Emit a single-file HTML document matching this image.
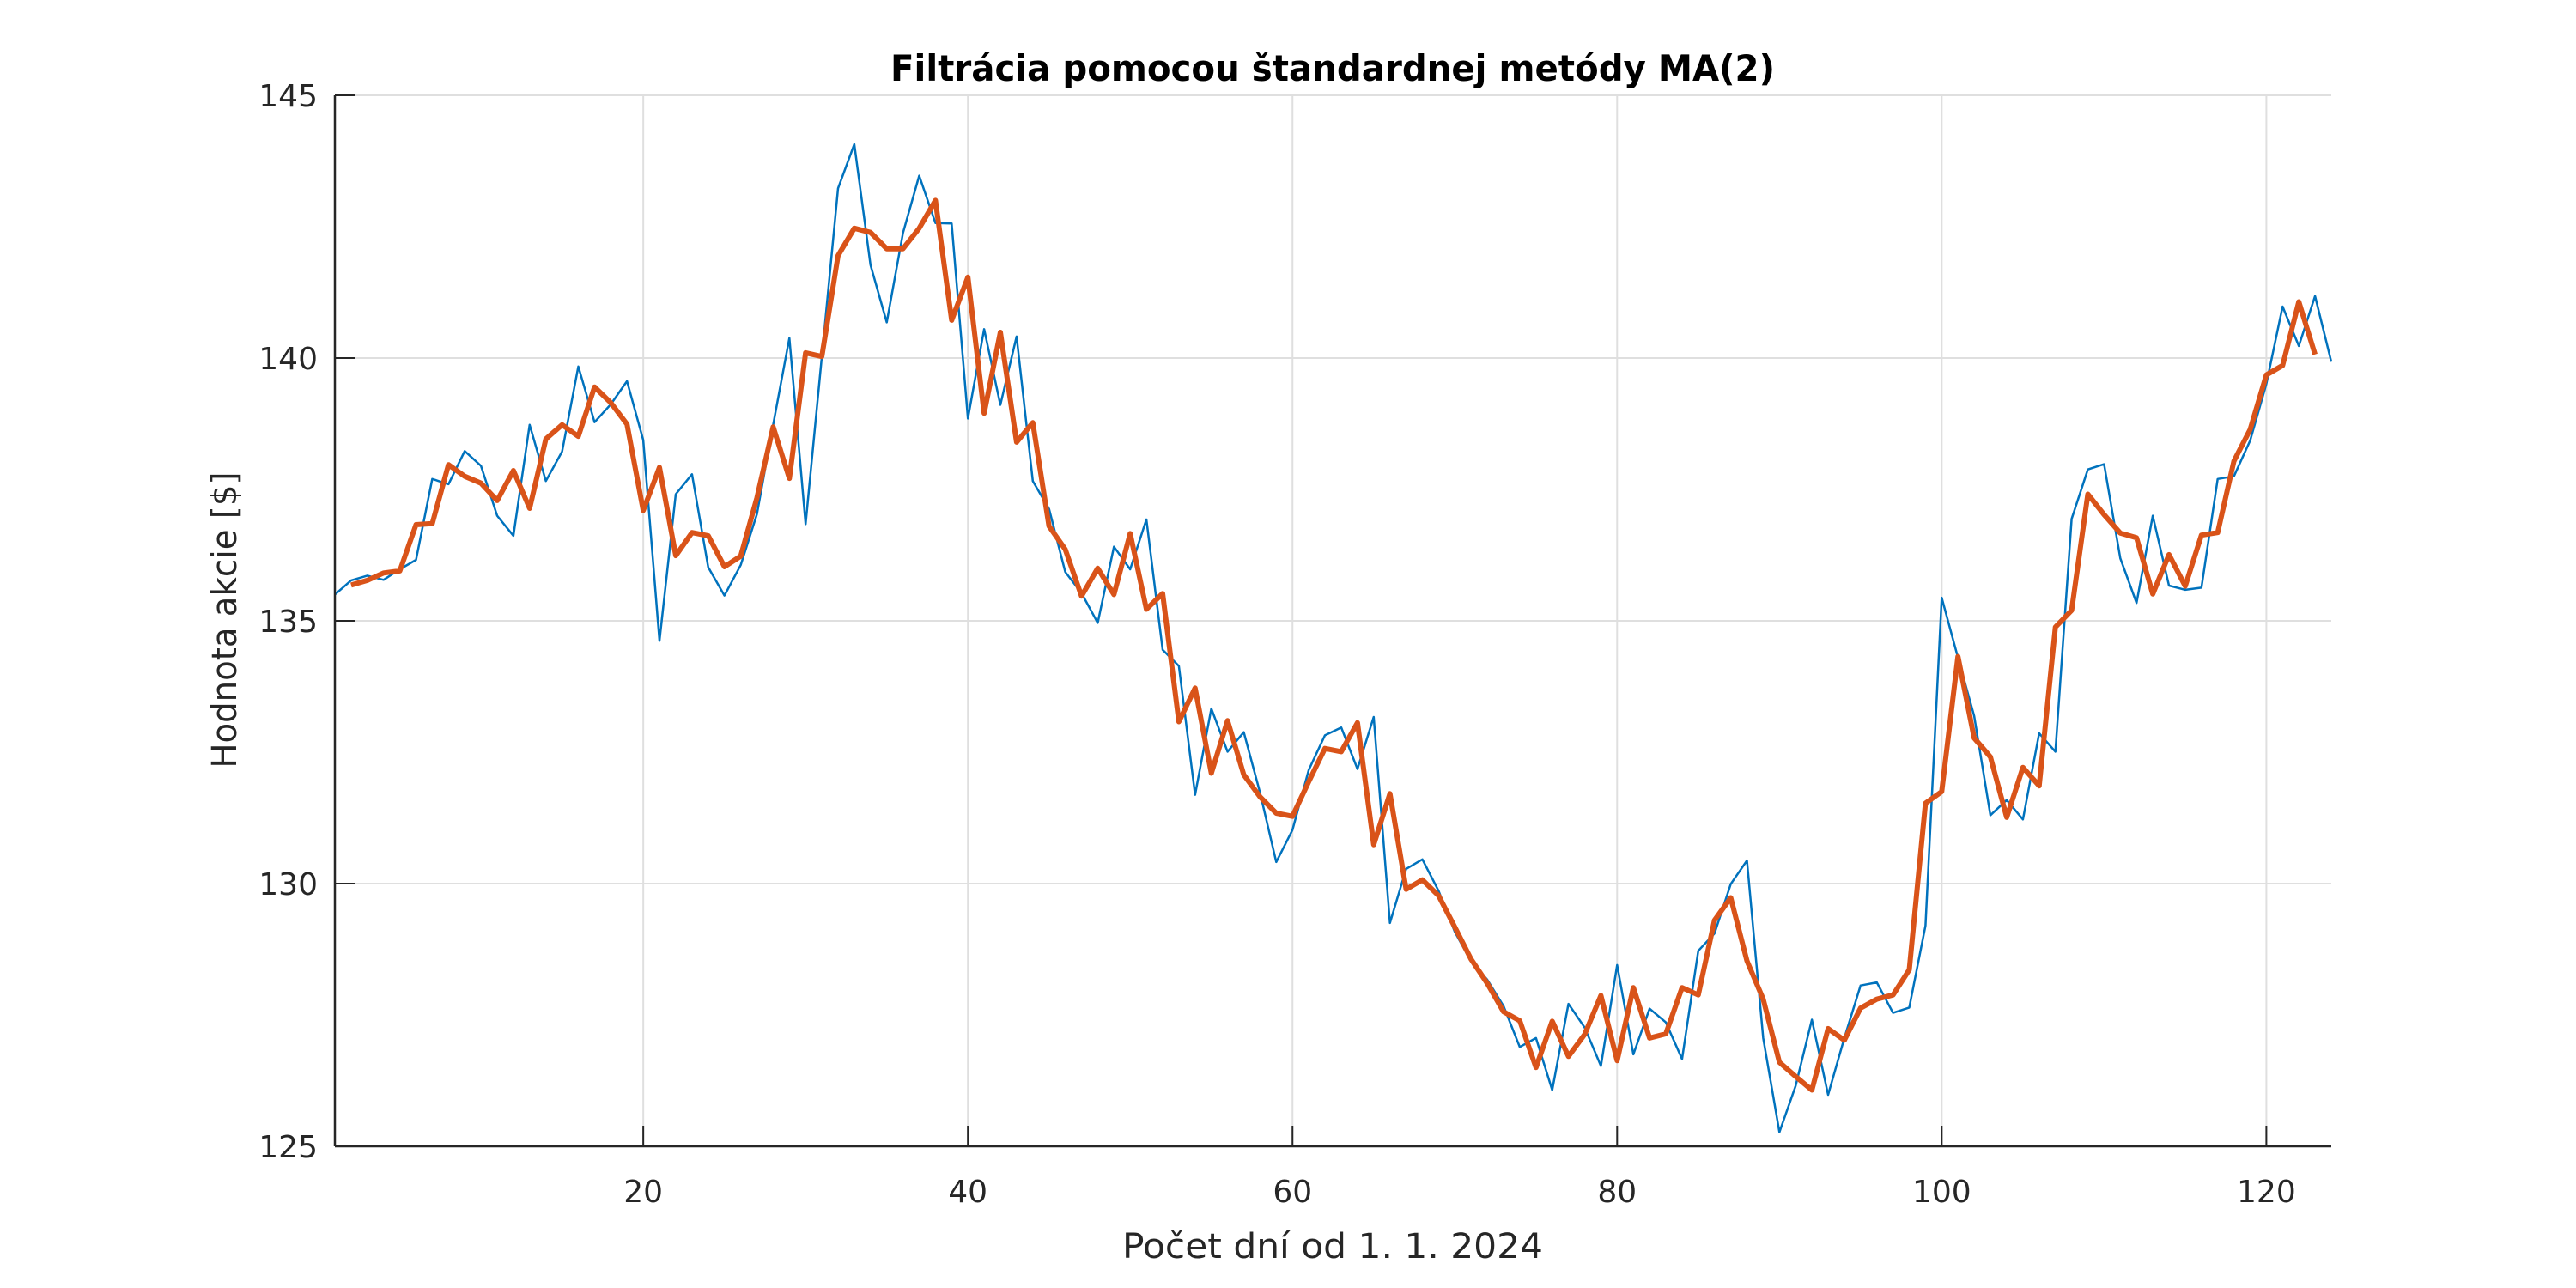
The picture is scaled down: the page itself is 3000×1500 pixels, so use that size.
<!DOCTYPE html>
<html><head><meta charset="utf-8"><style>html,body{margin:0;padding:0;background:#fff}svg{display:block}</style></head>
<body>
<svg id="chart" width="3000" height="1500" viewBox="0 0 3000 1500" xmlns="http://www.w3.org/2000/svg" font-family="'DejaVu Sans','Liberation Sans',sans-serif">
<rect x="0" y="0" width="3000" height="1500" fill="#fff"/>
<g id="grid"></g>
<g id="series"></g>
<g id="axes"></g>
<text x="1552" y="94" text-anchor="middle" font-size="42" font-weight="bold" fill="#000" textLength="1030" lengthAdjust="spacingAndGlyphs">Filtrácia pomocou štandardnej metódy MA(2)</text>
<text x="1552" y="1465" text-anchor="middle" font-size="40" fill="#262626" textLength="490" lengthAdjust="spacingAndGlyphs">Počet dní od 1. 1. 2024</text>
<text transform="translate(275,722) rotate(-90)" text-anchor="middle" font-size="40" fill="#262626" textLength="345" lengthAdjust="spacingAndGlyphs">Hodnota akcie [$]</text>
</svg>
<script>
const xTicks = [20, 40, 60, 80, 100, 120];
const yTicks = [125, 130, 135, 140, 145];
const rawValues = [135.5,135.77,135.86,135.78,135.98,136.16,137.7,137.6,138.23,137.95,137.0,136.62,138.73,137.66,138.22,139.84,138.78,139.12,139.56,138.44,134.62,137.41,137.79,136.02,135.48,136.06,137.03,138.73,140.38,136.84,140.03,143.23,144.07,141.77,140.68,142.38,143.47,142.57,142.56,138.85,140.55,139.11,140.41,137.66,137.13,135.93,135.53,134.96,136.41,135.98,136.93,134.45,134.14,131.69,133.33,132.51,132.88,131.73,130.41,131.02,132.16,132.82,132.97,132.18,133.17,129.25,130.28,130.46,129.86,129.08,128.52,128.17,127.67,126.89,127.06,126.07,127.71,127.26,126.53,128.45,126.75,127.62,127.36,126.66,128.72,129.05,129.99,130.44,127.06,125.27,126.15,127.41,125.98,127.06,128.06,128.12,127.54,127.64,129.2,135.44,134.3,133.19,131.3,131.59,131.22,132.86,132.51,136.94,137.88,137.98,136.19,135.34,137.0,135.67,135.59,135.63,137.7,137.75,138.43,139.51,140.98,140.23,141.18,139.93];
const filtValues = [135.68,135.77,135.91,135.95,136.83,136.85,137.97,137.75,137.62,137.29,137.86,137.14,138.46,138.73,138.51,139.45,139.15,138.74,137.1,137.92,136.24,136.68,136.62,136.03,136.23,137.34,138.69,137.71,140.1,140.03,141.95,142.47,142.39,142.08,142.08,142.47,143.0,140.72,141.54,138.95,140.49,138.4,138.77,136.8,136.36,135.47,136.0,135.5,136.66,135.22,135.52,133.08,133.72,132.1,133.1,132.07,131.65,131.34,131.28,131.94,132.57,132.51,133.06,130.74,131.71,129.89,130.07,129.77,129.17,128.56,128.1,127.56,127.39,126.5,127.38,126.71,127.13,127.87,126.63,128.02,127.06,127.14,128.02,127.88,129.3,129.73,128.53,127.8,126.6,126.33,126.07,127.24,127.02,127.63,127.8,127.88,128.36,131.53,131.75,134.32,132.77,132.41,131.26,132.21,131.86,134.88,135.2,137.41,137.02,136.67,136.58,135.51,136.26,135.66,136.63,136.68,138.04,138.64,139.68,139.86,141.07,140.07];
const rawStart = 1;
const filtStart = 2;

const NS = 'http://www.w3.org/2000/svg';
const L = 390, R = 2715, T = 111, B = 1335;
const xMin = 1, xMax = 124, yMin = 125, yMax = 145;
function xs(v){ return L + (v - xMin) / (xMax - xMin) * (R - L); }
function ys(v){ return B - (v - yMin) / (yMax - yMin) * (B - T); }
function mk(tag, attrs, parent){ const e = document.createElementNS(NS, tag); for (const k in attrs) e.setAttribute(k, attrs[k]); parent.appendChild(e); return e; }

const grid = document.getElementById('grid');
const axes = document.getElementById('axes');
const series = document.getElementById('series');

xTicks.forEach(t => {
  const g = mk('line', {x1: xs(t), x2: xs(t), y1: T, y2: B, stroke: '#dfdfdf', 'stroke-width': 2}, grid);
  
  
  const tk = mk('line', {x1: xs(t), x2: xs(t), y1: B, y2: B - 24, stroke: '#262626', 'stroke-width': 2}, axes);
  
  
  const lb = mk('text', {x: xs(t), y: 1400, 'text-anchor': 'middle', 'font-size': 36, fill: '#262626'}, axes);
  lb.textContent = t;
  
  
});
yTicks.forEach(t => {
  const g = mk('line', {x1: L, x2: R, y1: ys(t), y2: ys(t), stroke: '#dfdfdf', 'stroke-width': 2}, grid);
  
  
  const tk = mk('line', {x1: L, x2: L + 24, y1: ys(t), y2: ys(t), stroke: '#262626', 'stroke-width': 2}, axes);
  
  
  const lb = mk('text', {x: 370, y: ys(t) + 13, 'text-anchor': 'end', 'font-size': 36, fill: '#262626'}, axes);
  lb.textContent = t;
  
  
});
const xa = mk('line', {x1: L, x2: R, y1: B, y2: B, stroke: '#262626', 'stroke-width': 2.5}, axes);


const ya = mk('line', {x1: L, x2: L, y1: T, y2: B, stroke: '#262626', 'stroke-width': 2.5}, axes);



function pts(vals, start){ return vals.map((v, i) => xs(start + i).toFixed(1) + ',' + ys(v).toFixed(1)).join(' '); }
const p1 = mk('polyline', {points: pts(rawValues, rawStart), fill: 'none', stroke: '#0072BD', 'stroke-width': 2.5, 'stroke-linejoin': 'round'}, series);


const p2 = mk('polyline', {points: pts(filtValues, filtStart), fill: 'none', stroke: '#D95319', 'stroke-width': 6, 'stroke-linejoin': 'round'}, series);


</script>
</body></html>
